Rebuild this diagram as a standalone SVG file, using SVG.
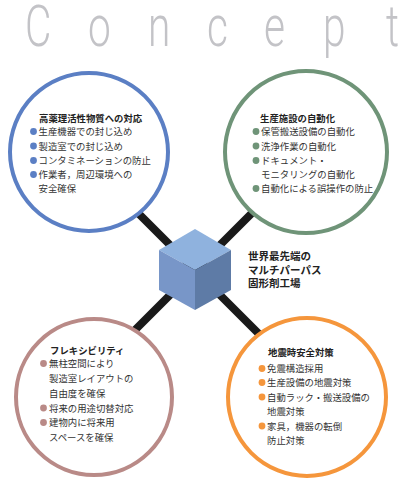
<svg xmlns="http://www.w3.org/2000/svg" width="410" height="480" viewBox="0 0 410 480">
<style>
.title{font-family:Roboto,"Liberation Sans",sans-serif;font-weight:300;font-size:58px;fill:#c3c3c7}
.t{font-family:"Noto Sans CJK JP",sans-serif;font-size:9.4px;fill:#333}
.h{font-family:"Noto Sans CJK JP",sans-serif;font-size:9.4px;font-weight:bold;fill:#222}
.c{font-family:"Noto Sans CJK JP",sans-serif;font-size:10.5px;font-weight:bold;fill:#222}
.ring{fill:#fff;stroke-width:4}
.conn{stroke:#1a1a1a;stroke-width:8;fill:none}
</style>
<text class="title" transform="scale(0.7 1)" y="46"><tspan x="35.7">C</tspan><tspan x="125.7">o</tspan><tspan x="211.4">n</tspan><tspan x="295.7">c</tspan><tspan x="377">e</tspan><tspan x="461.4">p</tspan><tspan x="551.4">t</tspan></text>
<g id="connectors">
<line class="conn" x1="195" y1="270" x2="110" y2="185"/>
<line class="conn" x1="195" y1="270" x2="280" y2="185"/>
<line class="conn" x1="195" y1="270" x2="110" y2="355"/>
<line class="conn" x1="195" y1="270" x2="280" y2="355"/>
</g>
<g id="node-hpapi">
<circle class="ring" cx="89" cy="152" r="79" stroke="#5b7fc4"/>
<text class="h" x="39" y="122">高薬理活性物質への対応</text>
<g fill="#5b7fc4"><circle cx="33.5" cy="131.5" r="3.4"/><circle cx="33.5" cy="146" r="3.4"/><circle cx="33.5" cy="160.5" r="3.4"/><circle cx="33.5" cy="174.5" r="3.4"/></g>
<text class="t" x="38.5" y="135">生産機器での封じ込め</text>
<text class="t" x="38.5" y="149.5">製造室での封じ込め</text>
<text class="t" x="38.5" y="164">コンタミネーションの防止</text>
<text class="t" x="38.5" y="178">作業者，周辺環境への</text>
<text class="t" x="38.5" y="192">安全確保</text>
</g>
<g id="node-automation">
<circle class="ring" cx="306" cy="152" r="81" stroke="#6f9478"/>
<text class="h" x="260" y="122">生産施設の自動化</text>
<g fill="#6f9478"><circle cx="256" cy="131.5" r="3.4"/><circle cx="256" cy="146" r="3.4"/><circle cx="256" cy="160.5" r="3.4"/><circle cx="256" cy="188.5" r="3.4"/></g>
<text class="t" x="261" y="135">保管搬送設備の自動化</text>
<text class="t" x="261" y="149.5">洗浄作業の自動化</text>
<text class="t" x="261" y="164">ドキュメント・</text>
<text class="t" x="261" y="178">モニタリングの自動化</text>
<text class="t" x="261" y="192">自動化による誤操作の防止</text>
</g>
<g id="node-flex">
<circle class="ring" cx="94" cy="397" r="78" stroke="#b98a87"/>
<text class="h" x="50" y="354">フレキシビリティ</text>
<g fill="#b98a87"><circle cx="43.5" cy="363.5" r="3.4"/><circle cx="43.5" cy="408" r="3.4"/><circle cx="43.5" cy="422.5" r="3.4"/></g>
<text class="t" x="49" y="367">無柱空間により</text>
<text class="t" x="49" y="382">製造室レイアウトの</text>
<text class="t" x="49" y="397">自由度を確保</text>
<text class="t" x="49" y="411.5">将来の用途切替対応</text>
<text class="t" x="49" y="426">建物内に将来用</text>
<text class="t" x="49" y="441">スペースを確保</text>
</g>
<g id="node-quake">
<circle class="ring" cx="307" cy="397" r="79" stroke="#f5963c"/>
<text class="h" x="268" y="356">地震時安全対策</text>
<g fill="#f5963c"><circle cx="262" cy="368.5" r="3.4"/><circle cx="262" cy="382.5" r="3.4"/><circle cx="262" cy="397" r="3.4"/><circle cx="262" cy="426" r="3.4"/></g>
<text class="t" x="267" y="372">免震構造採用</text>
<text class="t" x="267" y="386">生産設備の地震対策</text>
<text class="t" x="267" y="400.5">自動ラック・搬送設備の</text>
<text class="t" x="267" y="415">地震対策</text>
<text class="t" x="267" y="429.5">家具，機器の転倒</text>
<text class="t" x="267" y="444">防止対策</text>
</g>
<g id="node-center">
<polygon points="195,229 231,250 195,270 159,250" fill="#8fb2de"/>
<polygon points="159,250 195,270 195,310 159,290" fill="#7896c8"/>
<polygon points="195,270 231,250 231,290 195,310" fill="#5e7ba6"/>
<text class="c" x="248" y="260">世界最先端の</text>
<text class="c" x="248" y="273.5">マルチパーパス</text>
<text class="c" x="248" y="287">固形剤工場</text>
</g>
</svg>
